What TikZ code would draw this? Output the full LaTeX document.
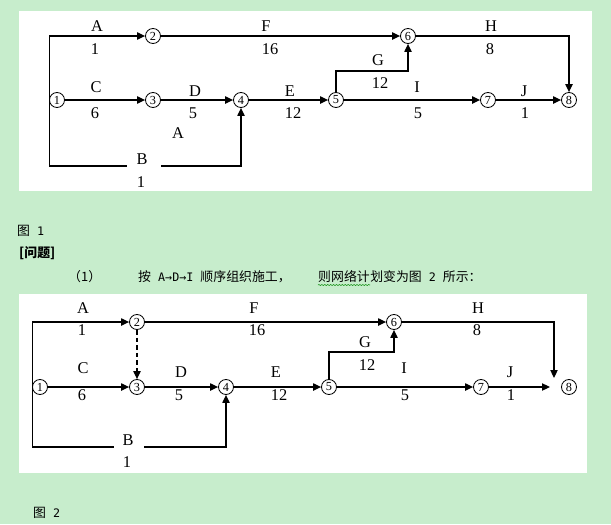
\documentclass[tikz,border=0pt]{standalone}
\usepackage{fontspec}
\setmainfont{Liberation Serif}
\newfontfamily\cjk{Noto Sans CJK SC}
\newfontfamily\halfw{DejaVu Sans Mono}
\newcommand{\lat}[1]{{\halfw\fontsize{10}{12}\selectfont #1}}
\usetikzlibrary{arrows.meta, decorations.pathmorphing}
\definecolor{docgreen}{RGB}{199,237,204}
\definecolor{wavegreen}{RGB}{30,150,30}

\begin{document}
\begin{tikzpicture}[x=0.03cm, y=-0.03cm]
\useasboundingbox (0,0) rectangle (611,524);
\fill[docgreen] (0,0) rectangle (611,524);
\fill[white] (19,11) rectangle (592,191);
\fill[white] (19,294) rectangle (587,473);

% events
\begin{scope}[every node/.style={circle,draw,line width=0.7pt,inner sep=0pt,
              minimum size=0.45cm,font=\fontsize{10.5}{10}\selectfont}]
  \node (a1) at (57,100) {1};
  \node (a2) at (153,36) {2};
  \node (a3) at (153,100) {3};
  \node (a4) at (241,100) {4};
  \node (a5) at (336,100) {5};
  \node (a6) at (408,36) {6};
  \node (a7) at (488,100) {7};
  \node (a8) at (569,100) {8};

  \node (b1) at (40,387) {1};
  \node (b2) at (137,322) {2};
  \node (b3) at (137,387) {3};
  \node (b4) at (226,387) {4};
  \node (b5) at (329,387) {5};
  \node (b6) at (394,322) {6};
  \node (b7) at (481,387) {7};
  \node (b8) at (569,387) {8};
\end{scope}

\coordinate (bL1) at (127,166);
\coordinate (bR1) at (161,166);
\coordinate (g1) at (336,71);
\coordinate (bL2) at (114,447);
\coordinate (bR2) at (144,447);
\coordinate (g2) at (329,352);
\coordinate (hE2) at (554,378);
\coordinate (jE2) at (550,387);

% activities
\begin{scope}[>={Triangle[length=2.4mm,width=2.2mm]}, line width=0.95pt,
              every edge/.style={draw=black, line width=0.95pt}]
    \draw[->] (a1.west) |- (a2);
    \draw (a1.west) |- (bL1);
    \draw[->] (bR1) -| (a4);
    \path[->] (a1) edge (a3);
    \path[->] (a3) edge (a4);
    \path[->] (a4) edge (a5);
    \path[->] (a2) edge (a6);
    \draw[->] (a5) -- (g1) -| (a6);
    \draw[->] (a6) -| (a8);
    \path[->] (a5) edge (a7);
    \path[->] (a7) edge (a8);

    \draw[->] (b1.west) |- (b2);
    \draw (b1.west) |- (bL2);
    \draw[->] (bR2) -| (b4);
    \path[->, dash pattern=on 4pt off 2.5pt] (b2) edge (b3);
    \path[->] (b1) edge (b3);
    \path[->] (b3) edge (b4);
    \path[->] (b4) edge (b5);
    \path[->] (b2) edge (b6);
    \draw[->] (b5) -- (g2) -| (b6);
    \draw[->] (b6) -| (hE2);
    \path[->] (b5) edge (b7);
    \draw[->] (b7) -- (jE2);
\end{scope}

% names and durations
\begin{scope}[every node/.style={inner sep=0pt,font=\fontsize{14}{14}\selectfont}]
    \node (tA1) at (97,26) {A};   \node (dA1) at (95,49) {1};
    \node (tF1) at (266,26) {F};  \node (dF1) at (270,49) {16};
    \node (tC1) at (96,87) {C};   \node (dC1) at (95,113) {6};
    \node (tD1) at (195,91) {D};  \node (dD1) at (193,113) {5};
    \node (tX1) at (178,133) {A};
    \node (tE1) at (290,91) {E};  \node (dE1) at (293,113) {12};
    \node (tB1) at (142,159) {B}; \node (dB1) at (141,182) {1};
    \node (tH1) at (491,26) {H};  \node (dH1) at (490,49) {8};
    \node (tG1) at (378,60) {G};  \node (dG1) at (380,83) {12};
    \node (tI1) at (417,87) {I};  \node (dI1) at (418,113) {5};
    \node (tJ1) at (524,91) {J};  \node (dJ1) at (525,113) {1};

    \node (tA2) at (83,308) {A};  \node (dA2) at (82,330) {1};
    \node (tF2) at (254,308) {F}; \node (dF2) at (257,330) {16};
    \node (tC2) at (83,368) {C};  \node (dC2) at (82,395) {6};
    \node (tD2) at (181,372) {D}; \node (dD2) at (179,395) {5};
    \node (tE2) at (276,372) {E}; \node (dE2) at (279,395) {12};
    \node (tB2) at (128,440) {B}; \node (dB2) at (127,462) {1};
    \node (tH2) at (478,308) {H}; \node (dH2) at (477,330) {8};
    \node (tG2) at (365,342) {G}; \node (dG2) at (367,365) {12};
    \node (tI2) at (404,368) {I}; \node (dI2) at (405,395) {5};
    \node (tJ2) at (510,372) {J}; \node (dJ2) at (511,395) {1};
\end{scope}

% document text
\begin{scope}[every node/.style={inner sep=0pt,anchor=west,font=\cjk\fontsize{11}{13}\selectfont}]
    \node (cap1) at (17,231) {图\lat{ 1}};
    \node[font=\cjk\bfseries\fontsize{11}{13}\selectfont] (qhead) at (19,253) {[问题]};
    \node (qnum) at (68,277) {（1）};
    \node (q1) at (138,277) {按\lat{ A→D→I }顺序组织施工，};
    \node (q2) at (318,277) {则网络计};
    \node (q3) at (q2.east) {划变为图\lat{ 2 }所示：};
    \node (cap2) at (33,513) {图\lat{ 2}};
\end{scope}
\draw[wavegreen, line width=0.5pt, decorate,
      decoration={snake, amplitude=0.5pt, segment length=2.5pt}]
    ([yshift=-1.5pt]q2.south west) -- ([yshift=-1.5pt]q2.south east);
\end{tikzpicture}
\end{document}
